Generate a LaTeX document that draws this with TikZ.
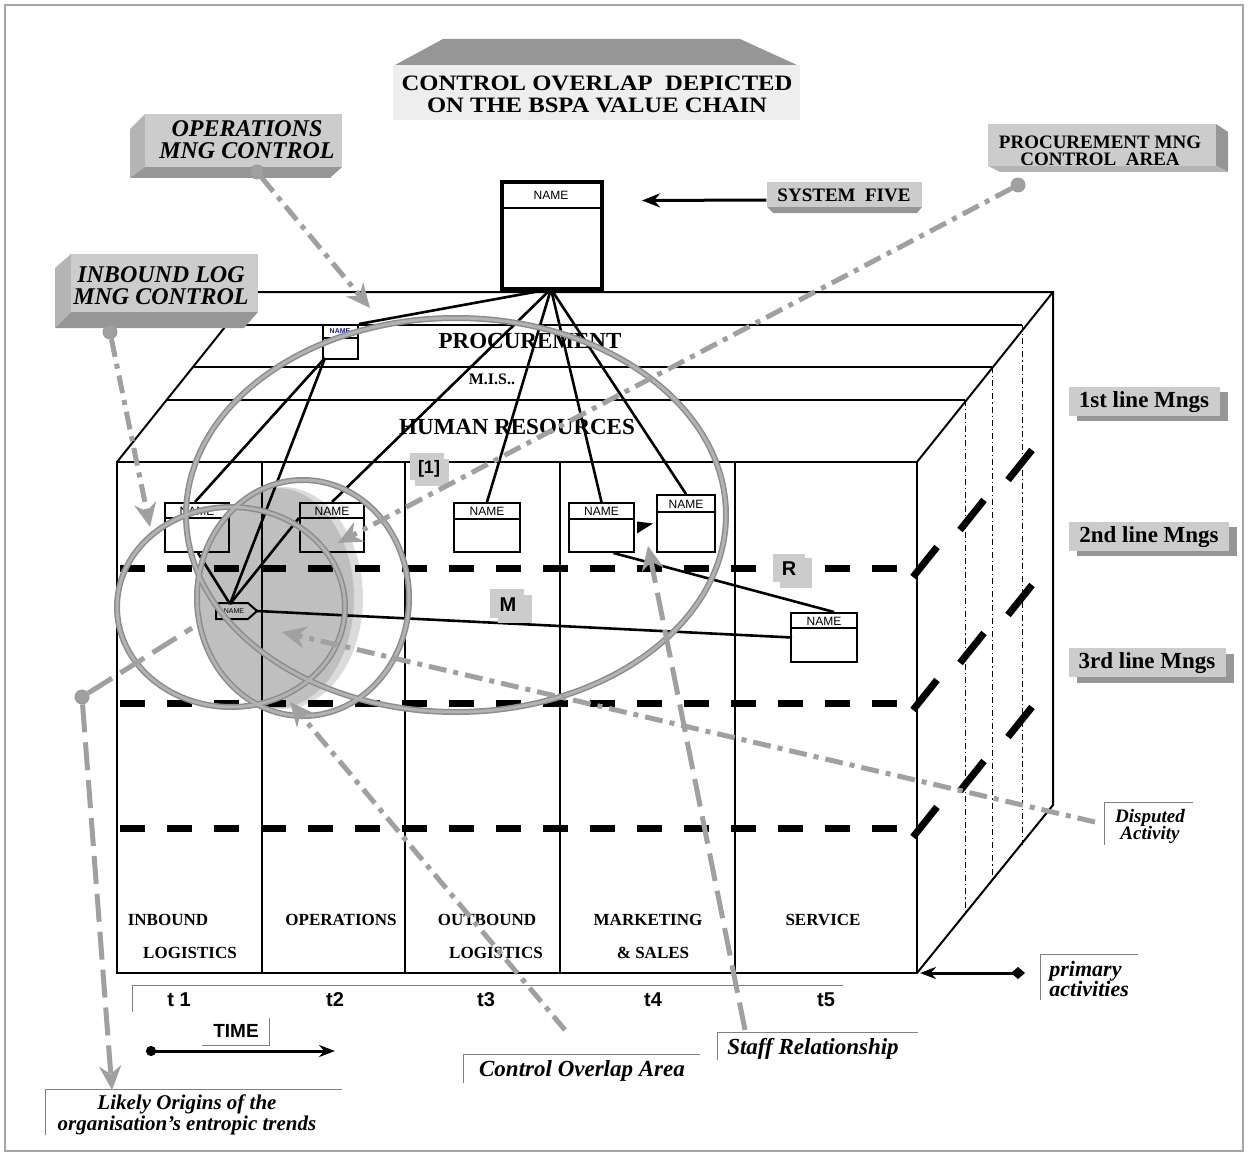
\documentclass[tikz,border=0pt]{standalone}
\usepackage{fontspec}
\setmainfont{Liberation Serif}
\setsansfont{Liberation Sans}
\usetikzlibrary{arrows.meta,calc}
\definecolor{lg}{RGB}{204,204,204}
\definecolor{mg}{RGB}{180,180,180}
\definecolor{dg}{RGB}{150,150,150}
\definecolor{ringout}{RGB}{140,140,140}
\definecolor{ringin}{RGB}{178,178,178}
\definecolor{conn}{RGB}{160,160,160}
\definecolor{tinyblue}{RGB}{20,30,120}
\newcommand\myfs[1]{\fontsize{#1}{#1}\selectfont}
\newcommand\nbox[6]{%
  \node[nbx, minimum width={#4*0.5pt}, minimum height={#5*0.5pt}, anchor=north west] (#1) at (#2,#3) {};
  \draw[line width=0.9pt] ($(#1.north west)+(0,#6)$) -- ($(#1.north east)+(0,#6)$);
  \node[font=\sffamily\myfs{6}, inner sep=0pt] at ($(#1.north)+(0,#6/2+1)$) {NAME};
}
\begin{document}
\begin{tikzpicture}[x=0.5pt,y=-0.5pt,
  boxln/.style={line width=1pt},
  blk/.style={line width=1.3pt},
  lvl/.style={line width=3.5pt, dash pattern=on 12.5pt off 11pt},
  slash/.style={line width=3.5pt},
  conn/.style={line width=2.5pt, draw=conn},
  dashdot/.style={conn, dash pattern=on 9pt off 3.5pt on 2.5pt off 3.5pt},
  longdash/.style={conn, dash pattern=on 14pt off 5pt},
  gtip/.style={-{Stealth[length=12pt,width=11pt,inset=4pt,fill=conn,color=conn]}},
  knob/.style={circle, fill=conn, draw=dg, line width=0.4pt, minimum size=7pt, inner sep=0pt},
  ringa/.style={draw=ringout, line width=3pt},
  ringb/.style={draw=ringin, line width=1.5pt},
  nbx/.style={draw, line width=1pt, inner sep=0pt},
  hd/.style={font=\bfseries\myfs{11.5}},
  col/.style={font=\bfseries\myfs{8.5}},
  tl/.style={font=\sffamily\bfseries\myfs{10}},
  lab3/.style={font=\bfseries\itshape\myfs{12}, align=center, inner sep=0pt},
  gl/.style={draw=gray, line width=0.5pt}
]
\useasboundingbox (0,0) rectangle (1248,1156);
\draw[gray!70, line width=0.6pt] (5,5) rectangle (1243,1151);

% title
\fill[dg] (443,39) -- (740,39) -- (797,65) -- (395,65) -- cycle;
\fill[gray!13] (393,65) rectangle (800,120);
\node[font=\bfseries\fontsize{11}{11}\selectfont\addfontfeature{FakeStretch=1.12}, align=center, inner sep=0pt] (title) at (597,94) {CONTROL OVERLAP\ \ DEPICTED\\ON THE BSPA VALUE CHAIN};

% shaded overlap area
\fill[gray!28] (283,598) ellipse [x radius=40pt, y radius=55.5pt];
\fill[gray!50] (277,598) ellipse [x radius=38.5pt, y radius=55pt];

% value chain box
\coordinate (fbr) at (917,973);
\draw[boxln] (117,462) rectangle (917,973);
\draw[boxln] (117,462) -- (253,292) -- (1053,292) -- (1053,805) -- (fbr);
\draw[boxln] (917,462) -- (1053,292);
\draw[boxln] (227,325) -- (1022,325);
\draw[boxln] (193,367) -- (992,367);
\draw[boxln] (167,400) -- (965,400);
\draw[line width=0.5pt, dash pattern=on 3pt off 1.5pt on 0.6pt off 1.5pt] (965,400) -- (965,914);
\draw[line width=0.5pt, dash pattern=on 3pt off 1.5pt on 0.6pt off 1.5pt] (992,367) -- (992,880);
\draw[line width=0.5pt, dash pattern=on 3pt off 1.5pt on 0.6pt off 1.5pt] (1022,325) -- (1022,845);
\draw[boxln] (262,462) -- (262,973);
\draw[line width=1.4pt] (405,462) -- (405,973);
\draw[boxln] (560,462) -- (560,973);
\draw[boxln] (735,462) -- (735,973);
\foreach \yy in {568,703,828} \draw[lvl] (120,\yy) -- (897,\yy);
\foreach \cx/\cy in {925/562, 925/695, 925/822, 972/515, 972/648, 972/776, 1020/465, 1020/600, 1020/722}
  \draw[slash] (\cx-12,\cy+15) -- (\cx+12,\cy-15);

\node[hd] (proc) at (530,341) {PROCUREMENT};
\node[font=\bfseries\myfs{8}] (mis) at (492,379) {M.I.S..};
\node[hd] (hr) at (517,427) {HUMAN RESOURCES};

\node[col] (cl1a) at (168,920) {INBOUND};
\node[col] (cl1b) at (190,953) {LOGISTICS};
\node[col] (cl2) at (341,920) {OPERATIONS};
\node[col] (cl3a) at (487,920) {OUTBOUND};
\node[col] (cl3b) at (496,953) {LOGISTICS};
\node[col] (cl4a) at (648,920) {MARKETING};
\node[col] (cl4b) at (653,953) {\& SALES};
\node[col] (cl5) at (823,920) {SERVICE};

% timeline
\draw[gl] (132,1012) -- (132,985) -- (843,985);
\node[tl] (t1) at (179,1000) {t 1};
\node[tl] (t2) at (335,1000) {t2};
\node[tl] (t3) at (486,1000) {t3};
\node[tl] (t4) at (653,1000) {t4};
\node[tl] (t5) at (826,1000) {t5};
\node[font=\sffamily\bfseries\myfs{9.5}] (time) at (236,1031) {TIME};
\draw[gl] (202,1045) -- (269,1045) -- (269,1018);
\coordinate (ts) at (146,1051);
\coordinate (te) at (335,1051);
\draw[line width=1.5pt, {Circle[length=5pt]}-{Stealth[length=8pt,width=6pt]}] (ts) -- (te);

% name boxes
\nbox{s5}{500}{180}{100}{107}{28}
\node[nbx, line width=1.8pt, minimum width=50pt, minimum height=53.5pt, anchor=north west] at (500,180) {};
\node[nbx, minimum width=17.5pt, minimum height=17pt, anchor=north west] (pb) at (322,324) {};
\draw[line width=0.8pt] (322,338) -- (357,338);
\node[font=\sffamily\bfseries\myfs{3.5}, text=tinyblue, inner sep=0pt] at (340,331) {NAME};
\nbox{c1}{164}{502}{64}{49}{16}
\nbox{c2}{299}{502}{64}{49}{16}
\nbox{c3}{453}{502}{66}{49}{17}
\nbox{c4a}{568}{502}{65}{49}{17}
\nbox{c4b}{656}{494}{58}{57}{18}
\nbox{c5}{790}{612}{66}{49}{16}
\coordinate (pent) at (230,604);
\coordinate (penttip) at (257,611);
\draw[line width=1pt] (219,603) -- (248,603) -- (penttip) -- (248,619) -- (216,619) -- (216,607) -- cycle;
\node[font=\sffamily\myfs{3.5}, inner sep=0pt] at (234,611) {NAME};

% black connectors
\foreach \t in {c2.north, c3.north, c4a.north, c4b.north}
  \draw[blk] (s5.south) -- (\t);
\draw[blk] (s5.south) -- (pb.north east);
\draw[blk] ($(pb.south west)+(3,-2)$) -- ($(c1.north)+(-2,0)$);
\draw[blk] ($(pb.south west)+(3,-2)$) -- (pent);
\draw[blk] (pent) -- ($(c2.north west)+(0,16)$);
\draw[blk] ($(c1.south)+(1,0)$) -- (pent);
\draw[blk] (penttip) -- ($(c5.west)+(2,0)$);
\draw[blk] ($(c4a.south)+(12,0)$) -- ($(c5.north east)+(-24,0)$);
\fill ($(c4a.east)+(2,-6)$) -- ($(c4b.west)+(-3,0)$) -- ($(c4a.east)+(2,6)$) -- cycle;

% rings
\foreach \st in {ringa, ringb} {
  \draw[\st] (456,515) ellipse [x radius=135pt, y radius=98.5pt];
  \draw[\st] (231,607) ellipse [x radius=57pt, y radius=50pt];
  \draw[\st] (303,598) ellipse [x radius=53pt, y radius=59pt];
}

% small labels
\fill[lg] (410,453) rectangle (444,480);
\fill[lg] (415,459) rectangle (449,486);
\node[font=\sffamily\bfseries\myfs{9}] (l1) at (429,469) {[1]};
\fill[lg] (490,589) rectangle (524,618);
\fill[lg] (498,595) rectangle (532,623);
\node[font=\sffamily\bfseries\myfs{10}] (lm) at (508,605) {M};
\fill[lg] (773,554) rectangle (805,582);
\fill[lg] (780,558) rectangle (812,588);
\node[font=\sffamily\bfseries\myfs{10}] (lr) at (789,569) {R};

% right labels
\fill[dg] (1077,392) rectangle (1228,421);
\fill[lg] (1069,387) rectangle (1220,416);
\node[font=\bfseries\myfs{11.5}] (m1) at (1144,402) {1st line Mngs};
\fill[dg] (1077,527) rectangle (1237,556);
\fill[lg] (1069,522) rectangle (1229,551);
\node[font=\bfseries\myfs{11.5}] (m2) at (1149,537) {2nd line Mngs};
\fill[dg] (1077,654) rectangle (1234,683);
\fill[lg] (1069,648) rectangle (1226,677);
\node[font=\bfseries\myfs{11.5}] (m3) at (1147,663) {3rd line Mngs};

% system five
\fill[dg] (767,207) -- (922,207) -- (917,213) -- (773,213) -- cycle;
\fill[lg] (767,182) rectangle (922,207);
\node[font=\bfseries\myfs{9.5}] (sf) at (844,195) {SYSTEM\ \ FIVE};
\draw[line width=1.5pt, -{Stealth[length=9pt,width=7pt]}] ($(sf.west)+(-4,5)$) -- ($(s5.east)+(40,-34)$);

% 3D label boxes
\fill[mg] (130,129) -- (145,114) -- (145,167) -- (130,178) -- cycle;
\fill[dg] (130,178) -- (145,167) -- (342,167) -- (330,178) -- cycle;
\fill[lg] (145,114) rectangle (342,167);
\node[lab3] (opl) at (247,140) {OPERATIONS\\[-1pt]MNG CONTROL};
\fill[mg] (55,268) -- (71,254) -- (71,312) -- (55,328) -- cycle;
\fill[dg] (55,328) -- (71,312) -- (258,312) -- (244,328) -- cycle;
\fill[lg] (71,254) rectangle (258,312);
\node[lab3] (ibl) at (161,286) {INBOUND LOG\\[-1pt]MNG CONTROL};
\fill[dg] (1216,124) -- (1228,132) -- (1228,172) -- (1216,166) -- cycle;
\fill[mg] (988,166) -- (1216,166) -- (1228,172) -- (1000,172) -- cycle;
\fill[lg] (988,124) rectangle (1216,166);
\node[font=\bfseries\myfs{9.5}, align=center, inner sep=0pt] (pcl) at (1100,151) {PROCUREMENT MNG\\[-1pt]CONTROL\ \ AREA};

% bottom / side labels
\draw[gl] (45,1135) -- (45,1089) -- (342,1089);
\node[font=\bfseries\itshape\myfs{10.5}, align=center, inner sep=0pt] (lo) at (187,1115) {Likely Origins of the\\[0pt]organisation’s entropic trends};
\draw[gl] (463,1083) -- (463,1054) -- (700,1054);
\node[font=\bfseries\itshape\myfs{11.5}] (coa) at (582,1071) {Control Overlap Area};
\draw[gl] (717,1060) -- (717,1032) -- (918,1032);
\node[font=\bfseries\itshape\myfs{11.5}] (sr) at (813,1049) {Staff Relationship};
\draw[gl] (1104,845) -- (1104,802) -- (1193,802);
\node[font=\bfseries\itshape\myfs{9.5}, align=center, inner sep=0pt] (da) at (1150,826) {Disputed\\[-1pt]Activity};
\draw[gl] (1040,1000) -- (1040,954) -- (1138,954);
\node[font=\bfseries\itshape\myfs{11}, align=left, inner sep=0pt, anchor=west] (pa) at (1049,979) {primary\\[-1pt]activities};
\coordinate (paend) at (1025,973);
\draw[line width=1.5pt, {Stealth[length=8pt,width=6pt]}-{Diamond[length=7pt,width=6pt]}] ($(fbr)+(3,0)$) -- (paend);

% gray pointer connectors
\node[knob] (k1) at (257,172) {};
\coordinate (a1) at (370,308);
\draw[dashdot, gtip] (k1) -- (a1);
\node[knob] (k2) at (110,332) {};
\coordinate (a2) at (150,527);
\draw[dashdot, gtip] (k2) -- (a2);
\node[knob] (k3) at (1018,185) {};
\coordinate (a3) at (338,543);
\draw[dashdot, gtip] (k3) -- (a3);
\node[knob] (k4) at (82,697) {};
\coordinate (a4) at (112,1090);
\coordinate (b4) at (192,628);
\draw[longdash, gtip] (k4) -- (a4);
\draw[longdash] (k4) -- (b4);
\coordinate (s5c) at (565,1030);
\coordinate (a5) at (290,702);
\draw[dashdot, gtip] (s5c) -- (a5);
\coordinate (s6) at (745,1030);
\coordinate (a6) at (648,546);
\draw[longdash, gtip] (s6) -- (a6);
\coordinate (s7) at (1095,822);
\coordinate (a7) at (282,632);
\draw[dashdot, gtip] (s7) -- (a7);
\end{tikzpicture}
\end{document}
